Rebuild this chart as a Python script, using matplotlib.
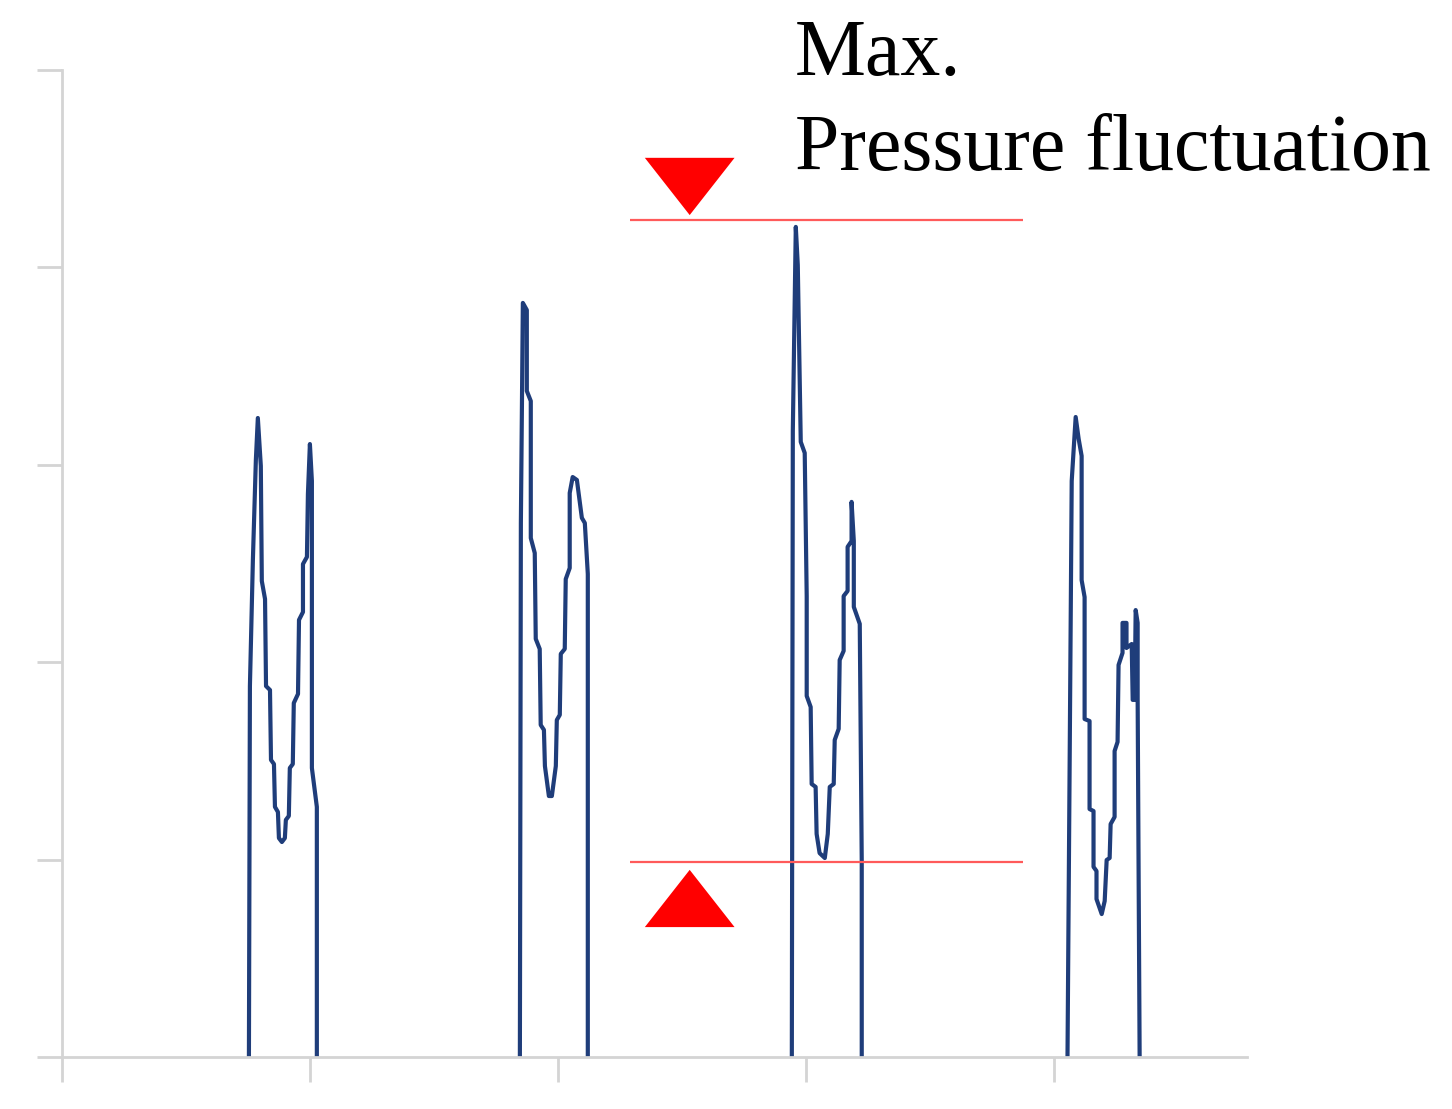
import matplotlib
matplotlib.use("Agg")
import matplotlib.pyplot as plt

# pulse traces, time in axis units, pressure in axis units
t1 = [0.754, 0.758, 0.770, 0.782, 0.790, 0.802, 0.806, 0.819, 0.823, 0.839, 0.843, 0.855,
      0.859, 0.871, 0.875, 0.887, 0.899, 0.903, 0.915, 0.919, 0.931, 0.935, 0.952, 0.956,
      0.972, 0.972, 0.988, 0.992, 1.000, 1.008, 1.008, 1.028, 1.028]
p1 = [0.0, 1.879, 2.518, 3.024, 3.237, 2.994, 2.411, 2.320, 1.879, 1.859, 1.505, 1.484,
      1.267, 1.241, 1.109, 1.089, 1.109, 1.201, 1.221, 1.464, 1.484, 1.793, 1.839, 2.214,
      2.254, 2.497, 2.533, 2.852, 3.105, 2.918, 1.464, 1.267, 0.0]

t2 = [1.847, 1.851, 1.859, 1.875, 1.875, 1.891, 1.891, 1.907, 1.911, 1.927, 1.931, 1.944,
      1.948, 1.964, 1.976, 1.992, 1.996, 2.008, 2.012, 2.028, 2.032, 2.048, 2.048, 2.060,
      2.077, 2.097, 2.109, 2.121, 2.121]
p2 = [0.0, 2.705, 3.820, 3.784, 3.374, 3.323, 2.629, 2.553, 2.118, 2.067, 1.682, 1.657,
      1.474, 1.322, 1.322, 1.474, 1.707, 1.733, 2.042, 2.067, 2.421, 2.477, 2.857, 2.938,
      2.923, 2.731, 2.705, 2.447, 0.0]

t3 = [2.944, 2.948, 2.960, 2.968, 2.980, 2.996, 3.004, 3.004, 3.020, 3.024, 3.040, 3.044,
      3.056, 3.077, 3.089, 3.097, 3.113, 3.117, 3.133, 3.137, 3.153, 3.153, 3.169, 3.169,
      3.185, 3.185, 3.194, 3.194, 3.218, 3.226, 3.226]
p3 = [0.0, 3.171, 4.205, 4.012, 3.116, 3.060, 2.335, 1.829, 1.773, 1.383, 1.368, 1.130,
      1.033, 1.008, 1.130, 1.368, 1.383, 1.606, 1.662, 2.011, 2.057, 2.335, 2.361, 2.584,
      2.614, 2.812, 2.614, 2.280, 2.194, 0.993, 0.0]

t4 = [4.056, 4.073, 4.089, 4.101, 4.113, 4.113, 4.125, 4.125, 4.145, 4.145, 4.161, 4.161,
      4.173, 4.173, 4.194, 4.206, 4.214, 4.226, 4.230, 4.246, 4.246, 4.258, 4.262, 4.278,
      4.278, 4.294, 4.294, 4.315, 4.319, 4.327, 4.331, 4.339, 4.339, 4.347]
p4 = [0.0, 2.918, 3.242, 3.131, 3.045, 2.416, 2.330, 1.712, 1.702, 1.256, 1.246, 0.963,
      0.942, 0.800, 0.724, 0.790, 0.998, 1.008, 1.180, 1.216, 1.550, 1.596, 1.986, 2.047,
      2.199, 2.199, 2.072, 2.092, 1.809, 1.809, 2.264, 2.199, 1.809, 0.0]

# max / min marker lines for the fluctuation
level_max = 4.240
level_min = 0.988
level_x = (2.290, 3.875)
label_lines = ["Max.", "Pressure fluctuation"]

fig = plt.figure(figsize=(14.52, 11.09), dpi=100)
ax = fig.add_axes([0.0427, 0.0469, 0.8161, 0.89])

for t, p in [(t1, p1), (t2, p2), (t3, p3), (t4, p4)]:
    ax.plot(t, p, color="#1f3d7a", lw=3.0, solid_joinstyle="round")

ax.hlines([level_max, level_min], level_x[0], level_x[1], color="#ff5a5a", lw=1.6)

# triangles pointing at the two levels
cx, half_w, h = 2.532, 0.181, 0.29
ax.fill([cx - half_w, cx + half_w, cx], [level_max + 0.025 + h, level_max + 0.025 + h, level_max + 0.025],
        color="#ff0000", lw=0)
ax.fill([cx - half_w, cx + half_w, cx], [level_min - 0.04 - h, level_min - 0.04 - h, level_min - 0.04],
        color="#ff0000", lw=0)

fig.text(0.5475, 0.9324, label_lines[0], fontfamily="Liberation Serif", fontsize=57.5,
         ha="left", va="baseline")
fig.text(0.5475, 0.8467, label_lines[1], fontfamily="Liberation Serif", fontsize=57.5,
         ha="left", va="baseline")

ax.set_xlim(0, 4.78)
ax.set_ylim(0, 5)
ax.set_xticks([0, 1, 2, 3, 4])
ax.set_yticks([0, 1, 2, 3, 4, 5])
ax.set_xticklabels([])
ax.set_yticklabels([])
ax.tick_params(length=18, width=2, color="#d4d4d4", direction="out")
for s in ["top", "right"]:
    ax.spines[s].set_visible(False)
for s in ["left", "bottom"]:
    ax.spines[s].set_color("#d4d4d4")
    ax.spines[s].set_linewidth(2)

fig.savefig("out.png", dpi=100)
